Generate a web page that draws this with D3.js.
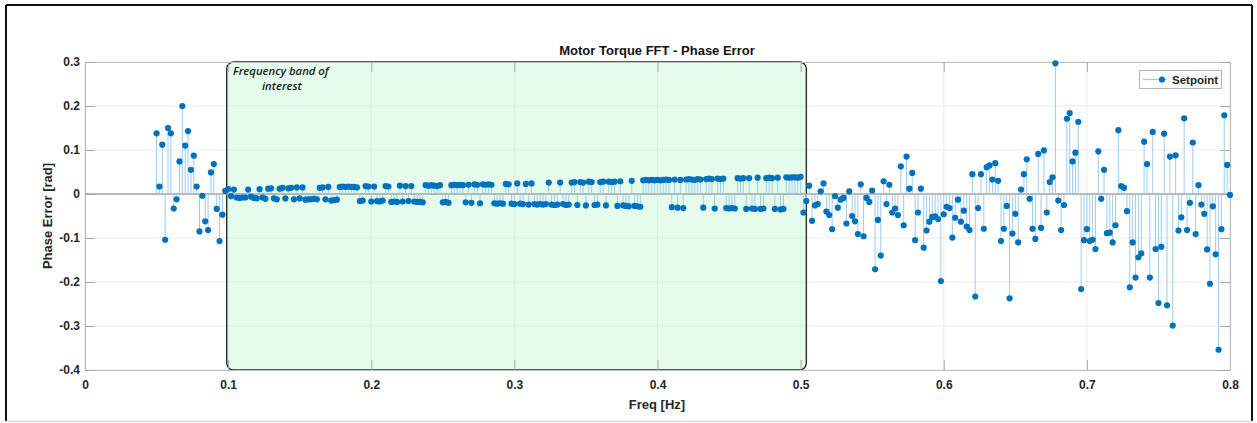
<!DOCTYPE html>
<html><head><meta charset="utf-8">
<script src="https://cdn.jsdelivr.net/npm/d3@7"></script>
<style>
html,body{margin:0;padding:0;background:#fff;}
svg{display:block;}
</style></head>
<body>
<svg id="chart" width="1257" height="423"></svg>
<script>
// FFT bin layout: first bin and bin spacing (Hz)
const freqStart = 0.05;
const freqStep = 0.002;

// Phase error [rad], 0.050 .. 0.098 Hz
const phaseLow = [
  0.138, 0.017, 0.112, -0.104, 0.150, 0.138, -0.033, -0.012, 0.074, 0.200,
  0.110, 0.143, 0.055, 0.087, 0.017, -0.085, -0.004, -0.062, -0.082, 0.049,
  0.068, -0.034, -0.107, -0.047, 0.007
];

// Phase error [rad], 0.100 .. 0.500 Hz
const phaseBand = [
  0.011, -0.005, 0.010, -0.008, -0.009, -0.008, -0.008, 0.010, -0.006, -0.009,
  -0.010, 0.011, -0.008, -0.011, 0.012, 0.013, -0.010, -0.012, 0.012, 0.014,
  -0.010, 0.013, 0.014, -0.012, 0.015, -0.010, 0.015, -0.013, -0.012, -0.012,
  -0.011, -0.012, 0.014, 0.015, -0.012, 0.016, -0.015, -0.014, -0.013, 0.016,
  0.017, 0.016, 0.017, 0.016, 0.016, 0.015, -0.016, -0.015, 0.018, 0.017,
  -0.017, 0.017, -0.016, -0.017, -0.015, 0.018, 0.017, -0.018, -0.017, -0.018,
  0.019, -0.017, 0.018, -0.016, 0.018, -0.017, -0.018, -0.018, -0.019, 0.020,
  0.019, 0.020, 0.019, 0.018, 0.020, -0.019, -0.018, -0.020, 0.020, 0.021,
  0.020, 0.021, 0.020, -0.019, 0.021, -0.020, 0.022, 0.021, -0.021, 0.022,
  0.021, 0.022, 0.021, -0.021, -0.022, -0.021, -0.022, 0.023, 0.022, -0.022,
  -0.023, 0.024, -0.022, -0.023, 0.023, -0.024, 0.024, -0.023, -0.024, -0.023,
  -0.024, -0.023, 0.026, -0.024, -0.025, -0.024, 0.026, -0.023, -0.025, -0.024,
  0.026, 0.027, -0.025, 0.027, 0.026, -0.026, 0.028, 0.027, -0.025, -0.024,
  0.027, 0.028, -0.026, 0.028, 0.027, 0.028, -0.027, 0.029, -0.026, -0.027,
  -0.028, 0.030, -0.027, -0.028, -0.029, 0.031, 0.032, 0.031, 0.032, 0.031,
  0.032, 0.031, 0.032, 0.033, 0.032, -0.030, 0.033, -0.031, 0.032, -0.032,
  0.033, 0.034, 0.033, 0.032, 0.034, 0.033, -0.031, 0.034, 0.035, 0.034,
  -0.033, 0.035, 0.034, 0.035, -0.032, -0.033, -0.032, -0.033, 0.036, 0.035,
  0.036, -0.034, 0.036, -0.033, -0.034, 0.037, -0.034, -0.033, 0.036, 0.037,
  0.036, -0.034, 0.037, -0.035, -0.034, 0.038, 0.037, 0.038, 0.038, 0.037,
  0.039
];

// Phase error [rad], 0.502 .. 0.800 Hz
const phaseHigh = [
  -0.042, -0.016, 0.019, -0.061, -0.026, -0.023, 0.006, 0.024, -0.040, -0.048,
  -0.080, -0.005, -0.031, -0.013, -0.009, -0.067, 0.006, -0.050, -0.062, -0.091,
  0.022, -0.096, -0.009, -0.018, 0.008, -0.171, -0.059, -0.140, 0.029, -0.023,
  0.021, -0.042, -0.033, -0.048, 0.063, -0.071, 0.085, 0.012, 0.048, -0.105,
  -0.042, 0.012, -0.122, -0.083, -0.063, -0.052, -0.051, -0.057, -0.198, -0.046,
  -0.029, -0.032, -0.099, -0.054, -0.013, -0.063, -0.038, -0.074, -0.082, 0.045,
  -0.233, -0.032, 0.045, -0.079, 0.061, 0.065, 0.033, 0.070, 0.030,
  -0.107, -0.079, -0.027, -0.237, -0.090, -0.045, -0.110, 0.010, 0.045, 0.079,
  -0.011, -0.079, -0.102, 0.091, -0.077, 0.099, -0.042, 0.027, 0.038, 0.297,
  -0.015, -0.082, -0.025, 0.171, 0.184, 0.074, 0.094, 0.164, -0.216, -0.105,
  -0.080, -0.107, -0.104, -0.125, 0.097, -0.011, 0.055, -0.089, -0.088, -0.110,
  -0.071, 0.145, 0.018, 0.014, -0.039, -0.212, -0.110, -0.190, -0.144, -0.135,
  0.119, 0.068, -0.190, 0.141, -0.125, -0.248, -0.120, 0.137, -0.253, 0.085,
  -0.299, 0.088, -0.083, -0.053, 0.172, -0.082, -0.020, 0.117, -0.091, 0.020,
  -0.024, -0.045, -0.126, -0.204, -0.028, -0.137, -0.354, -0.080, 0.179, 0.066,
  -0.002
];

const xTicks = [0, 0.1, 0.2, 0.3, 0.4, 0.5, 0.6, 0.7, 0.8];
const xTickLabels = ["0", "0.1", "0.2", "0.3", "0.4", "0.5", "0.6", "0.7", "0.8"];
const yTicks = [-0.4, -0.3, -0.2, -0.1, 0, 0.1, 0.2, 0.3];
const yTickLabels = ["-0.4", "-0.3", "-0.2", "-0.1", "0", "0.1", "0.2", "0.3"];

const bandRange = [0.099, 0.504];
const bandLabel = ["Frequency band of", "interest"];
const seriesName = "Setpoint";
const titleText = "Motor Torque FFT - Phase Error";
const xLabelText = "Freq [Hz]";
const yLabelText = "Phase Error [rad]";

const phase = phaseLow.concat(phaseBand, phaseHigh);
const data = phase.map((v, i) => ({ f: freqStart + i * freqStep, v }));

const svg = d3.select("#chart");
const W = 1257, H = 423;
const plot = { left: 85, right: 1230, top: 62, bottom: 370 };

const x = d3.scaleLinear().domain([0, 0.8]).range([plot.left, plot.right]);
const y = d3.scaleLinear().domain([-0.4, 0.3]).range([plot.bottom, plot.top]);

const FONT = "'Liberation Sans', Arial, Helvetica, sans-serif";
const axisGray = "#bdbdbd";
const textDark = "#262626";
const blue = "#0072BD";
const stemBlue = "#9fcbea";

svg.append("rect").attr("width", W).attr("height", H).attr("fill", "#fff");

// outer frame
svg.append("line").attr("x1", 6).attr("x2", 6).attr("y1", 5).attr("y2", 421)
  .attr("stroke", "#111").attr("stroke-width", 2);
svg.append("line").attr("x1", 6).attr("x2", 1252).attr("y1", 5).attr("y2", 5)
  .attr("stroke", "#111").attr("stroke-width", 2);
svg.append("line").attr("x1", 1252).attr("x2", 1252).attr("y1", 5).attr("y2", 421)
  .attr("stroke", "#111").attr("stroke-width", 2);
svg.append("line").attr("x1", 6).attr("x2", 1252).attr("y1", 421.5).attr("y2", 421.5)
  .attr("stroke", "#dcdcdc").attr("stroke-width", 1.5);

// grid
const grid = svg.append("g");
grid.selectAll(".gx").data(xTicks).join("line")
  .attr("x1", d => x(d)).attr("x2", d => x(d))
  .attr("y1", plot.top).attr("y2", plot.bottom)
  .attr("stroke", "#ebebeb").attr("stroke-width", 1);
grid.selectAll(".gy").data(yTicks).join("line")
  .attr("x1", plot.left).attr("x2", plot.right)
  .attr("y1", d => y(d)).attr("y2", d => y(d))
  .attr("stroke", "#ebebeb").attr("stroke-width", 1);

// highlighted frequency band
svg.append("rect")
  .attr("x", x(bandRange[0])).attr("y", y(0.3))
  .attr("width", x(bandRange[1]) - x(bandRange[0]))
  .attr("height", y(-0.4) - y(0.3))
  .attr("rx", 7).attr("ry", 7)
  .attr("fill", "#cff9de").attr("fill-opacity", 0.55)
  .attr("stroke", "#2b2b2b").attr("stroke-width", 1.4);

// axes (ticks on all four sides, pointing inward)
function styleAxis(g) {
  g.select(".domain").attr("stroke", axisGray).attr("stroke-width", 1.2);
  g.selectAll(".tick line").attr("stroke", "#a9a9a9").attr("stroke-width", 1);
  g.selectAll(".tick text").attr("fill", textDark).attr("font-family", FONT)
    .attr("font-size", 12).attr("font-weight", "bold");
}
svg.append("g").attr("transform", `translate(0,${plot.bottom})`)
  .call(d3.axisBottom(x).tickValues(xTicks).tickFormat((d, i) => xTickLabels[i])
    .tickSizeInner(-10).tickSizeOuter(0).tickPadding(10))
  .call(styleAxis);
svg.append("g").attr("transform", `translate(0,${plot.top})`)
  .call(d3.axisTop(x).tickValues(xTicks).tickFormat("")
    .tickSizeInner(-10).tickSizeOuter(0))
  .call(styleAxis);
svg.append("g").attr("transform", `translate(${plot.left},0)`)
  .call(d3.axisLeft(y).tickValues(yTicks).tickFormat((d, i) => yTickLabels[i])
    .tickSizeInner(-10).tickSizeOuter(0).tickPadding(5))
  .call(styleAxis);
svg.append("g").attr("transform", `translate(${plot.right},0)`)
  .call(d3.axisRight(y).tickValues(yTicks).tickFormat("")
    .tickSizeInner(-10).tickSizeOuter(0))
  .call(styleAxis);

// stem baseline
svg.append("line").attr("x1", plot.left).attr("x2", plot.right)
  .attr("y1", y(0)).attr("y2", y(0))
  .attr("stroke", "#a3a3a3").attr("stroke-width", 1.3);

// stems and markers
const stems = svg.append("g");
stems.selectAll("line").data(data).join("line")
  .attr("x1", d => x(d.f)).attr("x2", d => x(d.f))
  .attr("y1", y(0)).attr("y2", d => y(d.v))
  .attr("stroke", stemBlue).attr("stroke-width", 1);
stems.selectAll("circle").data(data).join("circle")
  .attr("cx", d => x(d.f)).attr("cy", d => y(d.v)).attr("r", 3.1)
  .attr("fill", blue);

// band annotation
svg.append("text").attr("x", 233).attr("y", 75)
  .attr("font-family", "'Open Sans', sans-serif").attr("font-style", "italic")
  .attr("font-weight", 600).attr("font-size", 11.3).attr("fill", "#1a1a1a")
  .text(bandLabel[0]);
svg.append("text").attr("x", 262).attr("y", 90)
  .attr("font-family", "'Open Sans', sans-serif").attr("font-style", "italic")
  .attr("font-weight", 600).attr("font-size", 11.3).attr("fill", "#1a1a1a")
  .text(bandLabel[1]);

// title and axis labels
svg.append("text").attr("x", 657).attr("y", 55).attr("text-anchor", "middle")
  .attr("font-family", FONT).attr("font-weight", "bold").attr("font-size", 13)
  .attr("fill", "#111").text(titleText);
svg.append("text").attr("x", 657).attr("y", 409).attr("text-anchor", "middle")
  .attr("font-family", FONT).attr("font-weight", "bold").attr("font-size", 13)
  .attr("fill", textDark).text(xLabelText);
svg.append("text").attr("transform", "translate(52,216) rotate(-90)")
  .attr("text-anchor", "middle")
  .attr("font-family", FONT).attr("font-weight", "bold").attr("font-size", 13)
  .attr("fill", textDark).text(yLabelText);

// legend
const lg = svg.append("g");
lg.append("rect").attr("x", 1139.5).attr("y", 70.5).attr("width", 82).attr("height", 18)
  .attr("fill", "#fff").attr("stroke", "#b4b4b4").attr("stroke-width", 1);
lg.append("line").attr("x1", 1143).attr("x2", 1167).attr("y1", 79.5).attr("y2", 79.5)
  .attr("stroke", stemBlue).attr("stroke-width", 1.2);
lg.append("circle").attr("cx", 1162).attr("cy", 79.5).attr("r", 3.1).attr("fill", blue);
lg.append("text").attr("x", 1172).attr("y", 84)
  .attr("font-family", FONT).attr("font-weight", "bold").attr("font-size", 11.5)
  .attr("fill", textDark).text(seriesName);
</script>
</body></html>
